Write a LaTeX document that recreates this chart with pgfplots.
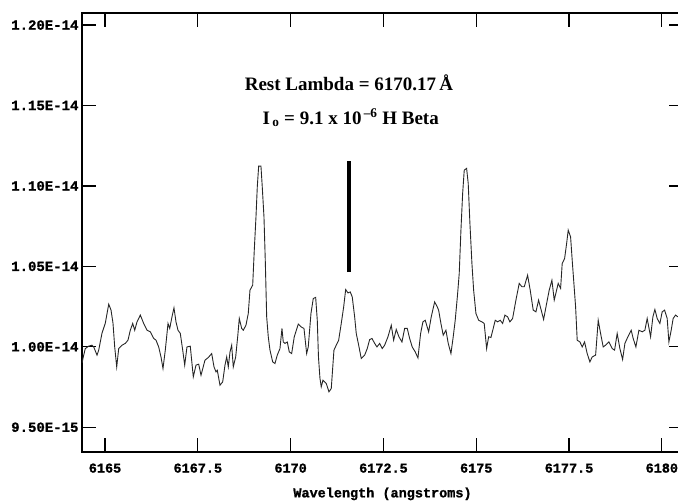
\documentclass[border=0pt]{standalone}
\usepackage{fontspec}
\setmainfont{Liberation Serif}
\setmonofont{Liberation Mono}
\newfontfamily\tickfont[FakeBold=1.2]{Liberation Mono Bold}
\usepackage{pgfplots}
\pgfplotsset{compat=1.18}
\usetikzlibrary{calc}

\begin{document}
\begin{tikzpicture}
\begin{axis}[
    name=ax,
    scale only axis,
    width=601pt, height=439pt,
    xmin=6164.38, xmax=6180.57,
    ymin=0.9346, ymax=1.2075,
    xtick={6165,6167.5,6170,6172.5,6175,6177.5,6180},
    xticklabels={6165,6167.5,6170,6172.5,6175,6177.5,6180},
    ytick={0.95,1.00,1.05,1.10,1.15,1.20},
    yticklabels={9.50E-15,1.00E-14,1.05E-14,1.10E-14,1.15E-14,1.20E-14},
    tick align=inside,
    major tick length=14pt,
    tick style={line width=1.2pt, black},
    axis line style={line width=1.3pt},
    yticklabel style={font=\tickfont\fontsize{14}{14}\selectfont},
    xticklabel style={font=\tickfont\fontsize{13.5}{13.5}\selectfont, yshift=-8pt},
    xlabel={Wavelength (angstroms)},
    xlabel style={font=\tickfont\fontsize{13.5}{13.5}\selectfont, yshift=-8pt},
]
% spectrum (flux in units of 1e-14)
\addplot[black!85, line width=0.9pt] coordinates {
(6164.381,0.9900) (6164.426,0.9948) (6164.469,0.9989) (6164.561,1.0004)
(6164.650,1.0010) (6164.696,0.9999) (6164.785,0.9948) (6164.830,0.9979)
(6164.919,1.0085) (6165.008,1.0147) (6165.100,1.0265) (6165.162,1.0228)
(6165.215,1.0147) (6165.261,0.9999) (6165.315,0.9875) (6165.369,0.9989)
(6165.458,1.0010) (6165.547,1.0021) (6165.619,1.0041) (6165.681,1.0103)
(6165.746,1.0145) (6165.800,1.0103) (6165.862,1.0155) (6165.951,1.0197)
(6166.042,1.0145) (6166.131,1.0103) (6166.220,1.0093) (6166.312,1.0052)
(6166.374,1.0041) (6166.446,0.9999) (6166.508,0.9937) (6166.562,0.9865)
(6166.624,0.9979) (6166.697,1.0145) (6166.743,1.0114) (6166.804,1.0186)
(6166.858,1.0242) (6166.912,1.0155) (6166.966,1.0103) (6167.028,1.0083)
(6167.093,0.9979) (6167.147,0.9886) (6167.208,0.9999) (6167.297,1.0004)
(6167.378,0.9813) (6167.451,0.9886) (6167.524,0.9892) (6167.586,0.9823)
(6167.693,0.9917) (6167.782,0.9933) (6167.874,0.9958) (6167.936,0.9875)
(6167.990,0.9844) (6168.025,0.9854) (6168.097,0.9761) (6168.170,0.9782)
(6168.232,0.9886) (6168.278,0.9937) (6168.321,0.9875) (6168.367,0.9968)
(6168.412,1.0010) (6168.455,0.9875) (6168.520,0.9937) (6168.574,1.0062)
(6168.617,1.0176) (6168.682,1.0114) (6168.725,1.0103) (6168.797,1.0134)
(6168.859,1.0207) (6168.905,1.0352) (6168.978,1.0383) (6169.021,1.0601)
(6169.067,1.0808) (6169.102,1.0994) (6169.139,1.1123) (6169.201,1.1123)
(6169.236,1.0994) (6169.282,1.0808) (6169.317,1.0539) (6169.355,1.0186)
(6169.398,1.0062) (6169.444,0.9979) (6169.517,0.9906) (6169.578,0.9896)
(6169.640,0.9948) (6169.713,0.9989) (6169.767,1.0114) (6169.802,1.0030)
(6169.848,1.0021) (6169.910,1.0030) (6169.964,0.9968) (6170.028,0.9958)
(6170.098,1.0062) (6170.206,1.0141) (6170.279,1.0124) (6170.360,1.0114)
(6170.432,0.9958) (6170.475,0.9999) (6170.548,1.0207) (6170.610,1.0300)
(6170.675,1.0307) (6170.718,1.0165) (6170.750,0.9937) (6170.790,0.9805)
(6170.825,0.9751) (6170.871,0.9792) (6170.960,0.9772) (6171.033,0.9720)
(6171.095,0.9741) (6171.167,0.9979) (6171.229,1.0010) (6171.294,1.0041)
(6171.364,1.0145) (6171.429,1.0248) (6171.483,1.0356) (6171.544,1.0335)
(6171.606,1.0341) (6171.660,1.0310) (6171.725,1.0186) (6171.768,1.0083)
(6171.833,1.0010) (6171.903,0.9927) (6171.994,0.9948) (6172.064,0.9989)
(6172.129,1.0045) (6172.191,1.0052) (6172.264,1.0021) (6172.326,0.9999)
(6172.398,1.0021) (6172.468,0.9989) (6172.533,1.0010) (6172.622,1.0062)
(6172.711,1.0134) (6172.775,1.0041) (6172.845,1.0108) (6172.918,1.0062)
(6172.999,1.0030) (6173.072,1.0114) (6173.142,1.0114) (6173.206,1.0052)
(6173.276,0.9999) (6173.357,0.9968) (6173.430,0.9931) (6173.502,1.0083)
(6173.564,1.0155) (6173.626,1.0165) (6173.718,1.0093) (6173.788,1.0186)
(6173.880,1.0279) (6173.950,1.0248) (6173.987,1.0228) (6174.049,1.0145)
(6174.111,1.0072) (6174.184,1.0103) (6174.246,1.0021) (6174.319,0.9958)
(6174.380,1.0062) (6174.434,1.0165) (6174.499,1.0331) (6174.542,1.0456)
(6174.588,1.0725) (6174.634,1.0953) (6174.677,1.1098) (6174.741,1.1109)
(6174.784,1.1016) (6174.830,1.0767) (6174.884,1.0518) (6174.930,1.0352)
(6174.992,1.0207) (6175.065,1.0165) (6175.153,1.0155) (6175.215,1.0145)
(6175.280,0.9989) (6175.334,1.0062) (6175.396,1.0058) (6175.458,1.0114)
(6175.512,1.0165) (6175.576,1.0155) (6175.646,1.0165) (6175.711,1.0145)
(6175.773,1.0197) (6175.846,1.0186) (6175.907,1.0155) (6175.980,1.0176)
(6176.069,1.0290) (6176.158,1.0394) (6176.231,1.0373) (6176.293,1.0373)
(6176.384,1.0445) (6176.454,1.0352) (6176.535,1.0228) (6176.608,1.0217)
(6176.680,1.0290) (6176.750,1.0228) (6176.815,1.0170) (6176.896,1.0269)
(6176.966,1.0352) (6177.039,1.0414) (6177.101,1.0290) (6177.165,1.0352)
(6177.208,1.0394) (6177.273,1.0363) (6177.316,1.0518) (6177.381,1.0549)
(6177.435,1.0642) (6177.478,1.0725) (6177.542,1.0683) (6177.585,1.0539)
(6177.631,1.0394) (6177.677,1.0248) (6177.720,1.0041) (6177.793,1.0030)
(6177.855,0.9999) (6177.919,1.0030) (6177.989,0.9958) (6178.062,0.9906)
(6178.124,0.9937) (6178.216,0.9948) (6178.286,1.0165) (6178.350,1.0083)
(6178.420,0.9999) (6178.485,1.0010) (6178.574,1.0030) (6178.663,0.9989)
(6178.727,0.9979) (6178.797,1.0083) (6178.870,0.9989) (6178.943,0.9921)
(6179.005,1.0021) (6179.085,1.0062) (6179.174,1.0103) (6179.228,1.0052)
(6179.301,0.9999) (6179.382,1.0103) (6179.471,1.0093) (6179.543,1.0103)
(6179.605,1.0176) (6179.697,1.0062) (6179.759,1.0186) (6179.813,1.0232)
(6179.874,1.0176) (6179.947,1.0145) (6180.009,1.0217) (6180.074,1.0228)
(6180.144,1.0176) (6180.190,1.0030) (6180.252,1.0103) (6180.305,1.0176)
(6180.370,1.0197) (6180.432,1.0186)
};
% marker for the rest wavelength
\addplot[black, line width=4pt] coordinates {(6171.56,1.0464) (6171.56,1.1154)};
\node[font=\bfseries\fontsize{19}{19}\selectfont] at (axis cs:6171.57,1.1639)
    {Rest Lambda = 6170.17\,Å};
\node[font=\bfseries\fontsize{19}{19}\selectfont] at (axis cs:6171.62,1.1422)
    {I\textsubscript{\,o} = 9.1 x 10\textsuperscript{\,--6} H Beta};
\end{axis}
\pgfresetboundingbox
\path ($(ax.south west)+(-82pt,-50pt)$) rectangle ($(ax.north east)+(-5pt,13pt)$);
\end{tikzpicture}
\end{document}
